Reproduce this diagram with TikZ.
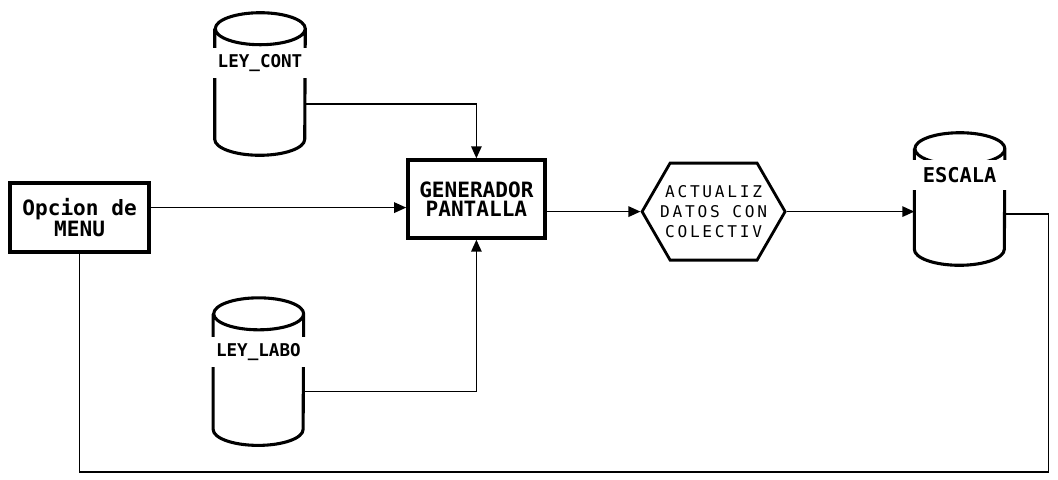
\documentclass[tikz,border=0pt]{standalone}
\usepackage{fontspec}
\setmonofont{DejaVu Sans Mono}
\usetikzlibrary{arrows.meta,positioning,shapes.geometric,shapes.symbols,calc}

\begin{document}
\begin{tikzpicture}[
    proc/.style={draw, line width=2.4pt, minimum width=3.45cm, minimum height=1.8cm, align=center, font=\ttfamily\bfseries\fontsize{15}{13.5}\selectfont},
    store/.style={minimum width=2.25cm, inner sep=0pt},
    storeline/.style={line width=2.2pt, line join=round},
    storelbl/.style={fill=white, inner sep=0pt, minimum width=2.45cm, minimum height=0.75cm, font=\ttfamily\bfseries\fontsize{12.5}{13}\selectfont},
    update/.style={draw, line width=2pt, signal, signal to=west and east, signal pointer angle=120, minimum width=3.575cm, minimum height=2.425cm, inner sep=0pt},
    updtext/.style={align=center, inner sep=0pt, font=\ttfamily\fontsize{11.5}{14}\selectfont\addfontfeature{LetterSpace=17}},
    arrow/.style={-{Triangle[length=3mm, width=2.6mm]}, line width=1.2pt},
    link/.style={line width=0.9pt}
]
\useasboundingbox (0,0) rectangle (26.45,-11.975);

% process boxes
\node[proc, minimum width=3.475cm, minimum height=1.725cm] (menu) at (1.99,-5.44) {Opcion de\\MENU};
\node[proc, minimum width=3.425cm, minimum height=1.95cm] (gen) at (11.91,-4.975) {GENERADOR\\PANTALLA};
\node[update] (upd) at (17.84,-5.29) {};
\node[updtext] (updtxt) at (upd.center) {ACTUALIZ\\DATOS CON\\COLECTIV};

% data stores
\node[store, minimum height=3.55cm] (leycont) at (6.5,-2.1) {};
\node[store, minimum height=3.675cm] (leylabo) at (6.46,-9.29) {};
\node[store, minimum height=3.3cm] (escala) at (23.99,-4.975) {};
\foreach \db in {leycont,leylabo,escala}
  \draw[storeline] ([yshift=-4mm]\db.north west) -- ([yshift=4mm]\db.south west)
    arc[start angle=180, end angle=360, x radius=1.125cm, y radius=4mm]
    -- ([yshift=-4mm]\db.north east)
    arc[start angle=0, end angle=360, x radius=1.125cm, y radius=4mm];
\node[storelbl] (leycontlbl) at ([yshift=5.25mm]leycont.center) {LEY\_CONT};
\node[storelbl] (leylabolbl) at ([yshift=4.9mm]leylabo.center) {LEY\_LABO};
\node[storelbl, font=\ttfamily\bfseries\fontsize{14.5}{15}\selectfont] (escalalbl) at ([yshift=6mm]escala.center) {ESCALA};

\coordinate (loopend) at (26.22,-11.8);

% flows
\draw[arrow] ([yshift=2.5mm]menu.east) -- ([yshift=2.5mm]menu.east -| gen.west);
\draw[arrow] ([yshift=-5mm]leycont.east) -| (gen.north);
\draw[arrow] ([yshift=-5mm]leylabo.east) -| (gen.south);
\draw[arrow] (upd.west -| gen.east) -- (upd.west);
\draw[arrow] (upd.east) -- (upd.east -| escala.west);
\draw[link] (menu.south) |- (loopend) |- ([yshift=-3.75mm]escala.east);

\end{tikzpicture}
\end{document}
